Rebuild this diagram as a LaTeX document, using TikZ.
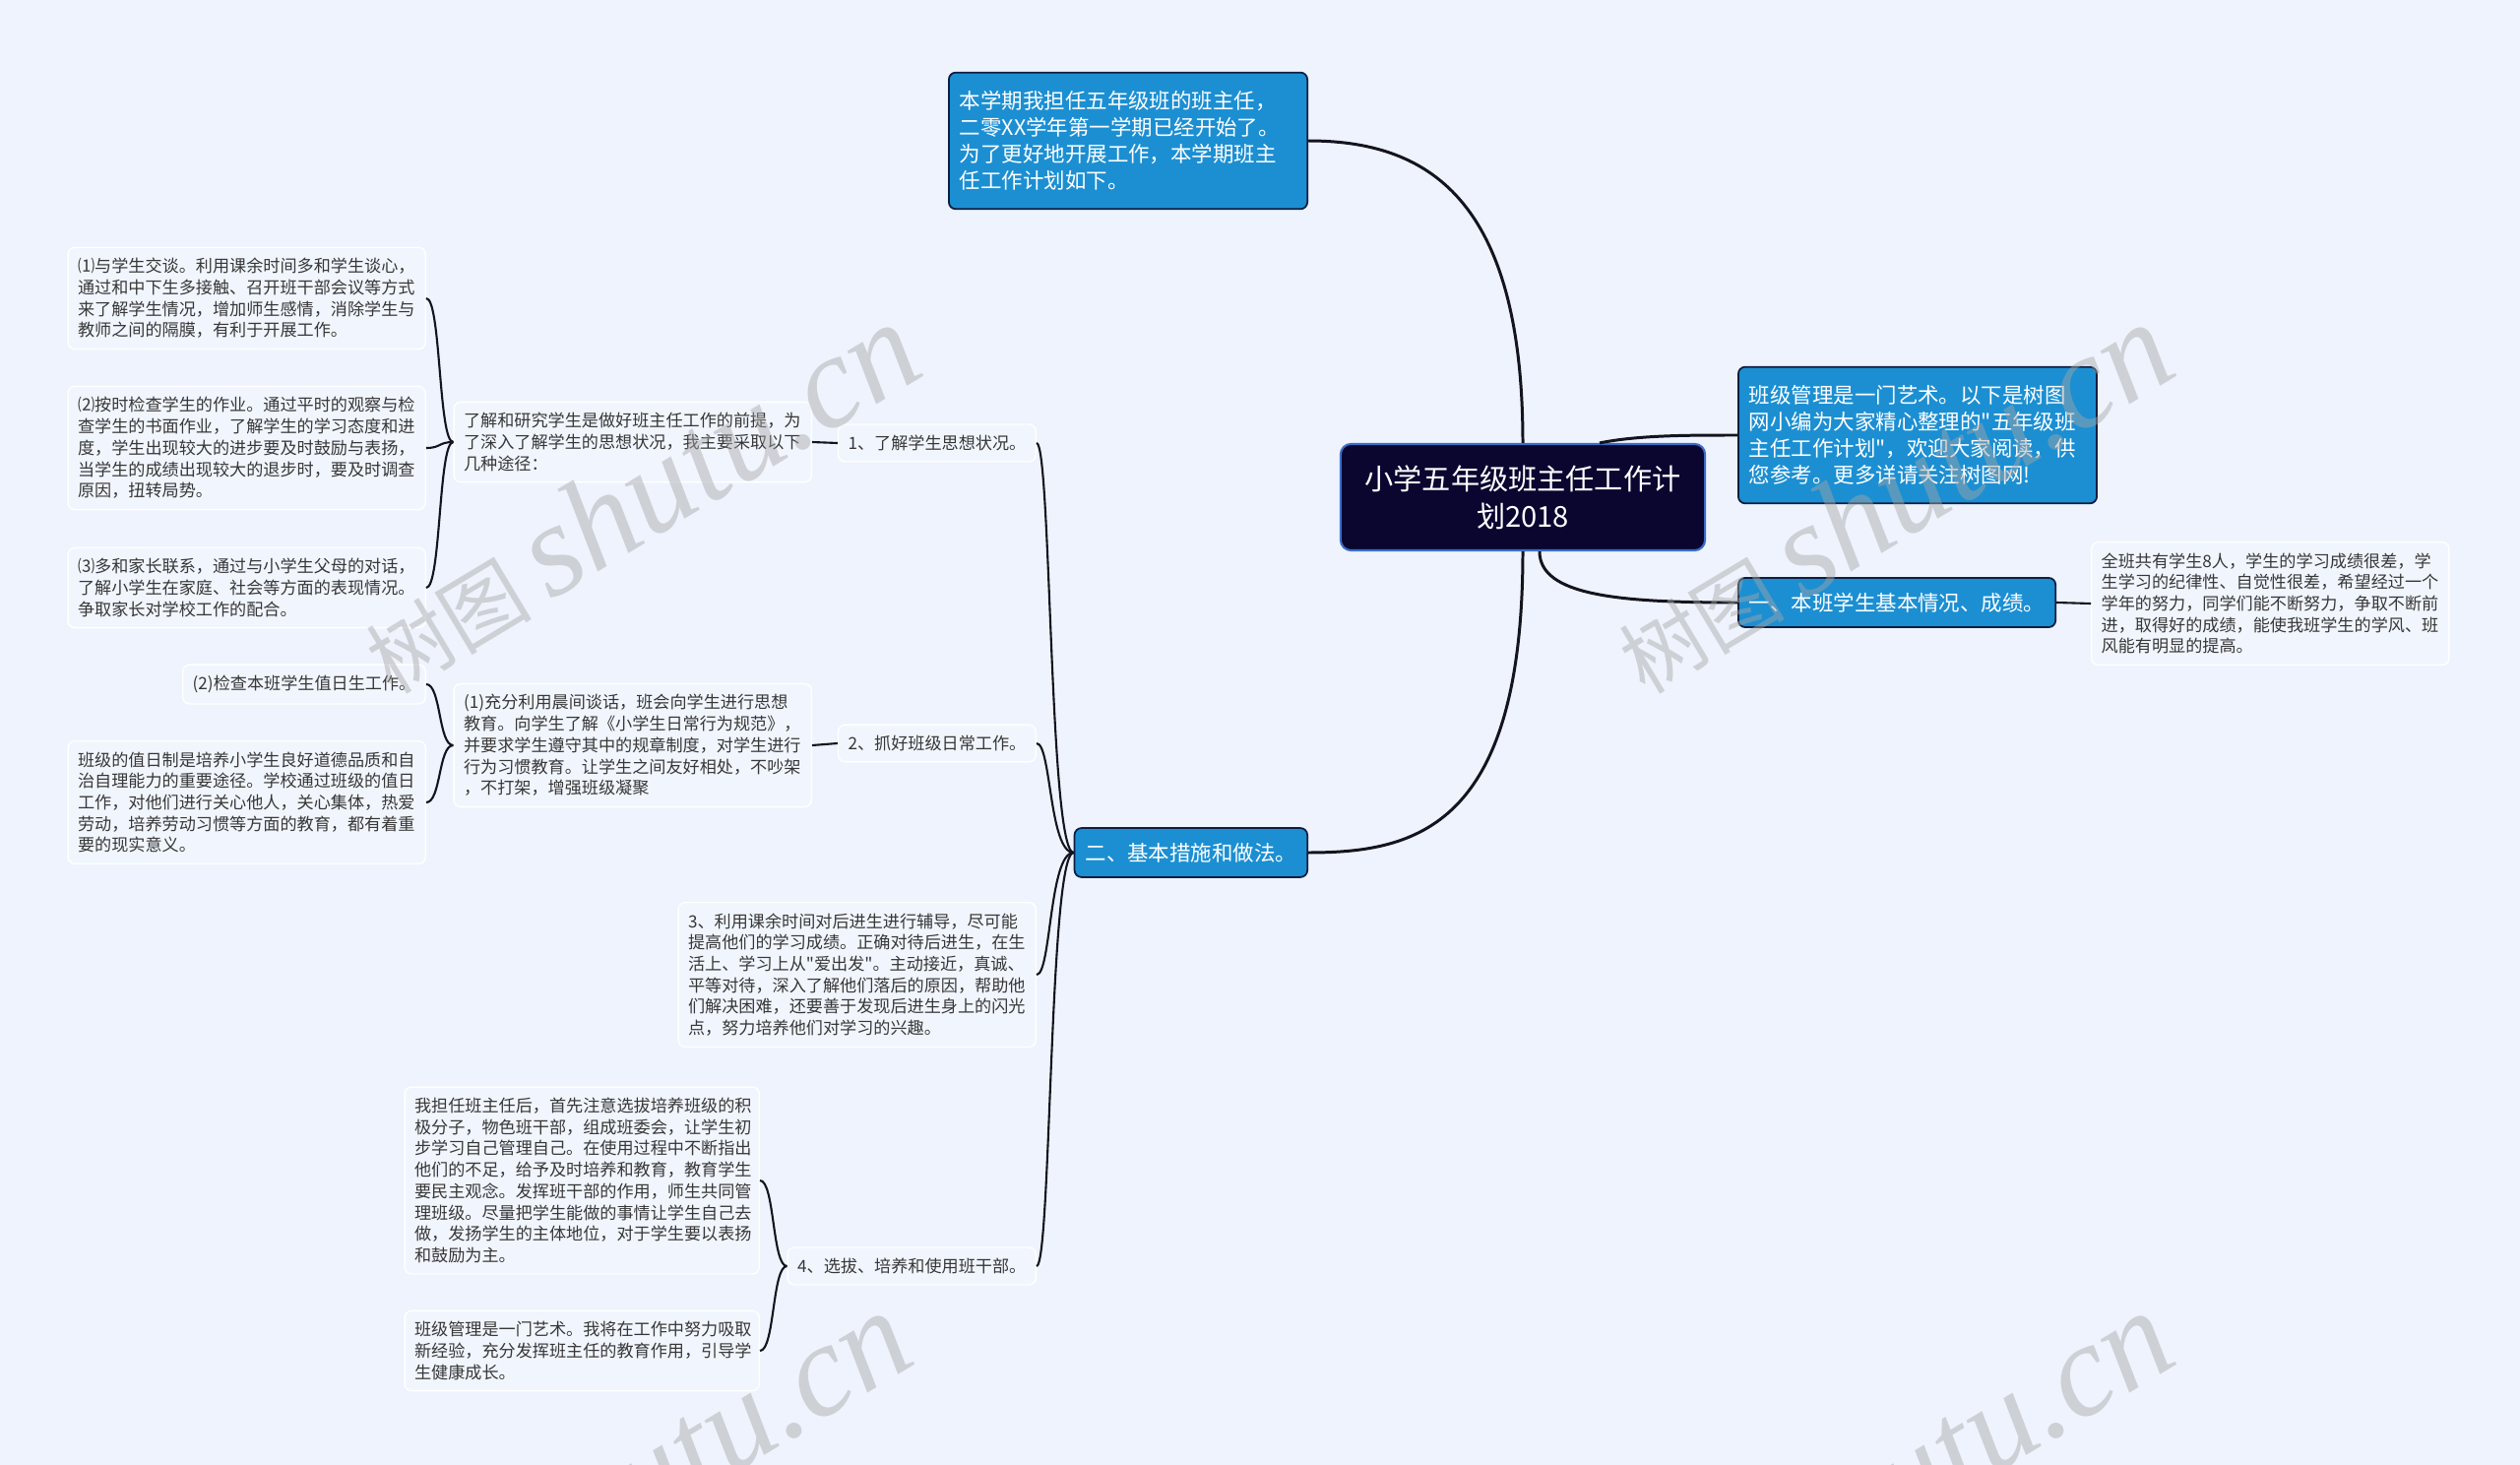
\documentclass[tikz,border=0pt]{standalone}
\usepackage{fontspec}
\setmainfont{Noto Sans CJK SC}
\newfontfamily\cjkfont{Noto Sans CJK SC}
\newfontfamily\wmfont{Liberation Serif}
\usetikzlibrary{calc}
\definecolor{bgc}{RGB}{238,243,253}
\definecolor{bluec}{RGB}{28,143,210}
\definecolor{navyc}{RGB}{14,30,64}
\definecolor{rootc}{RGB}{10,6,48}
\definecolor{rootedge}{RGB}{60,110,200}
\definecolor{leafc}{RGB}{241,246,254}
\definecolor{leaftext}{RGB}{55,55,55}
\definecolor{linkc}{RGB}{20,20,30}
\newcommand{\leaffont}{\cjkfont\fontsize{4.87pt}{6.17pt}\selectfont}
\newcommand{\bluefont}{\cjkfont\fontsize{6.1pt}{7.65pt}\selectfont}
\newcommand{\rootfont}{\cjkfont\fontsize{8.3pt}{10.7pt}\selectfont}
\tikzset{
  rootbox/.style={draw=rootedge, fill=rootc, text=white, rounded corners=3pt, line width=0.6pt,
    font=\rootfont, align=center, minimum width=3.70cm, minimum height=1.08cm},
  bluebox/.style={draw=navyc, fill=bluec, text=white, rounded corners=2pt, line width=0.5pt,
    font=\bluefont, inner xsep=0.11cm, inner ysep=0.15cm},
  leaf/.style={draw=white, fill=leafc, text=leaftext, rounded corners=2pt, line width=0.4pt,
    font=\leaffont, inner xsep=0.10cm, inner ysep=0.11cm},
  mainlink/.style={draw=linkc, line width=0.85pt},
  link/.style={draw=linkc, line width=0.6pt},
  wm/.style={text=gray!70, opacity=0.45, rotate=31, font=\cjkfont\fontsize{24pt}{24pt}\selectfont}
}
\begin{document}
\begin{tikzpicture}[x=0.01cm, y=-0.01cm]
\fill[bgc] (0,0) rectangle (2560,1488);
\useasboundingbox (0,0) rectangle (2560,1488);

\node[rootbox] (root) at (1547,505) {小学五年级班主任工作计\\划2018};
\node[bluebox, anchor=east, text width=3.42cm, align=left, inner ysep=0.19cm] (intro) at (1329,143)
  {本学期我担任五年级班的班主任，\\二零XX学年第一学期已经开始了。\\为了更好地开展工作，本学期班主\\任工作计划如下。};
\node[bluebox, anchor=west, text width=3.42cm, align=left, inner ysep=0.19cm] (note) at (1765,442)
  {班级管理是一门艺术。以下是树图\\网小编为大家精心整理的"五年级班\\主任工作计划"，欢迎大家阅读，供\\您参考。更多详请关注树图网!};
\node[bluebox, anchor=west] (sec1) at (1765,612) {一、本班学生基本情况、成绩。};
\node[leaf, anchor=west, text width=3.43cm, align=left] (sec1d) at (2124,613)
  {全班共有学生8人，学生的学习成绩很差，学\\生学习的纪律性、自觉性很差，希望经过一个\\学年的努力，同学们能不断努力，争取不断前\\进，取得好的成绩，能使我班学生的学风、班\\风能有明显的提高。};
\node[bluebox, anchor=east] (sec2) at (1329,866) {二、基本措施和做法。};

\node[leaf, anchor=east] (s21) at (1053,450) {1、了解学生思想状况。};
\node[leaf, anchor=east] (s22) at (1053,755) {2、抓好班级日常工作。};
\node[leaf, anchor=east, text width=3.43cm, align=left] (s23) at (1053,990)
  {3、利用课余时间对后进生进行辅导，尽可能\\提高他们的学习成绩。正确对待后进生，在生\\活上、学习上从"爱出发"。主动接近，真诚、\\平等对待，深入了解他们落后的原因，帮助他\\们解决困难，还要善于发现后进生身上的闪光\\点，努力培养他们对学习的兴趣。};
\node[leaf, anchor=east] (s24) at (1053,1286) {4、选拔、培养和使用班干部。};

\node[leaf, anchor=east, text width=3.43cm, align=left] (s21a) at (825,449)
  {了解和研究学生是做好班主任工作的前提，为\\了深入了解学生的思想状况，我主要采取以下\\几种途径：};
\node[leaf, anchor=east, text width=3.43cm, align=left] (s21a1) at (433,303)
  {⑴与学生交谈。利用课余时间多和学生谈心，\\通过和中下生多接触、召开班干部会议等方式\\来了解学生情况，增加师生感情，消除学生与\\教师之间的隔膜，有利于开展工作。};
\node[leaf, anchor=east, text width=3.43cm, align=left] (s21a2) at (433,455)
  {⑵按时检查学生的作业。通过平时的观察与检\\查学生的书面作业，了解学生的学习态度和进\\度，学生出现较大的进步要及时鼓励与表扬，\\当学生的成绩出现较大的退步时，要及时调查\\原因，扭转局势。};
\node[leaf, anchor=east, text width=3.43cm, align=left] (s21a3) at (433,597)
  {⑶多和家长联系，通过与小学生父母的对话，\\了解小学生在家庭、社会等方面的表现情况。\\争取家长对学校工作的配合。};

\node[leaf, anchor=east, text width=3.43cm, align=left] (s22a) at (825,757)
  {(1)充分利用晨间谈话，班会向学生进行思想\\教育。向学生了解《小学生日常行为规范》，\\并要求学生遵守其中的规章制度，对学生进行\\行为习惯教育。让学生之间友好相处，不吵架\\，不打架，增强班级凝聚};
\node[leaf, anchor=east] (s22a1) at (433,695) {(2)检查本班学生值日生工作。};
\node[leaf, anchor=east, text width=3.43cm, align=left] (s22a2) at (433,815)
  {班级的值日制是培养小学生良好道德品质和自\\治自理能力的重要途径。学校通过班级的值日\\工作，对他们进行关心他人，关心集体，热爱\\劳动，培养劳动习惯等方面的教育，都有着重\\要的现实意义。};

\node[leaf, anchor=east, text width=3.40cm, align=left] (s24a) at (772,1199)
  {我担任班主任后，首先注意选拔培养班级的积\\极分子，物色班干部，组成班委会，让学生初\\步学习自己管理自己。在使用过程中不断指出\\他们的不足，给予及时培养和教育，教育学生\\要民主观念。发挥班干部的作用，师生共同管\\理班级。尽量把学生能做的事情让学生自己去\\做，发扬学生的主体地位，对于学生要以表扬\\和鼓励为主。};
\node[leaf, anchor=east, text width=3.40cm, align=left] (s24b) at (772,1372)
  {班级管理是一门艺术。我将在工作中努力吸取\\新经验，充分发挥班主任的教育作用，引导学\\生健康成长。};

\draw[mainlink] (root.north) .. controls +(0,-250) and +(120,0) .. (intro.east);
\draw[mainlink] ($(root.north)+(78,0)$) .. controls +(40,-8) and +(-50,0) .. (note.west);
\draw[mainlink] ($(root.south)+(17,0)$) .. controls +(0,45) and +(-120,0) .. (sec1.west);
\draw[mainlink] (root.south) .. controls +(0,280) and +(110,0) .. (sec2.east);
\draw[link] (sec1.east) -- (sec1d.west);
\foreach \n in {s21,s22,s23,s24}
  \draw[link] (sec2.west) .. controls +(-25,0) and +(15,0) .. (\n.east);
\draw[link] (s21a.east) -- (s21.west);
\foreach \n in {s21a1,s21a2,s21a3}
  \draw[link] (s21a.west) .. controls +(-15,0) and +(15,0) .. (\n.east);
\draw[link] (s22a.east) -- (s22.west);
\foreach \n in {s22a1,s22a2}
  \draw[link] (s22a.west) .. controls +(-15,0) and +(15,0) .. (\n.east);
\foreach \n in {s24a,s24b}
  \draw[link] (s24.west) .. controls +(-15,0) and +(15,0) .. (\n.east);

\begin{scope}
\clip (0,0) rectangle (2560,1488);
\node[wm] (wm1) at (649,506) {树图 {\wmfont\itshape\fontsize{38pt}{38pt}\selectfont shutu.cn}};
\node[wm] (wm2) at (1922,506) {树图 {\wmfont\itshape\fontsize{38pt}{38pt}\selectfont shutu.cn}};
\node[wm] (wm3) at (640,1510) {树图 {\wmfont\itshape\fontsize{38pt}{38pt}\selectfont shutu.cn}};
\node[wm] (wm4) at (1922,1510) {树图 {\wmfont\itshape\fontsize{38pt}{38pt}\selectfont shutu.cn}};
\end{scope}
\end{tikzpicture}
\end{document}
